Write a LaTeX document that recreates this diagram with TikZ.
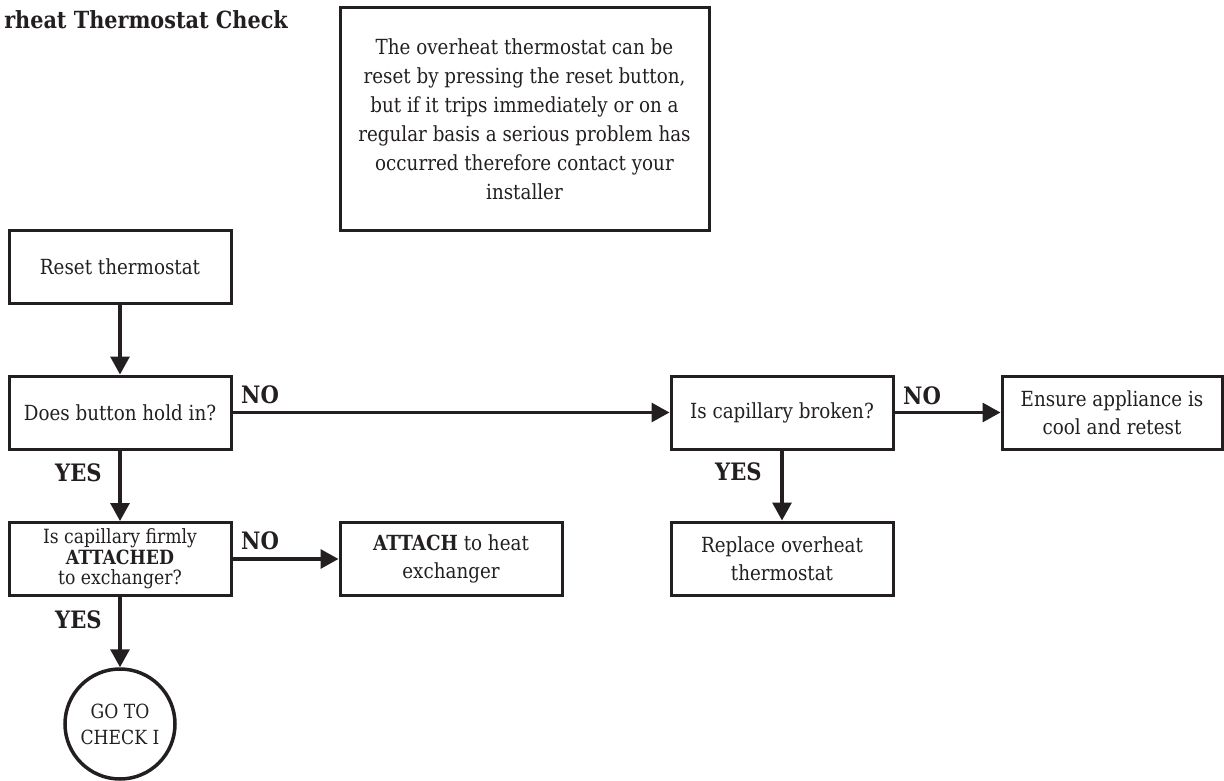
\documentclass[tikz,border=0pt]{standalone}
\usepackage{fontspec}
\setmainfont{DejaVu Serif}[FakeStretch=0.88]
\usetikzlibrary{arrows.meta}
\definecolor{ink}{HTML}{231F20}
\tikzset{
  box/.style={draw=ink, line width=3pt, rectangle, minimum width=222pt, minimum height=73pt,
    inner sep=0pt, align=center, text=ink, font=\fontsize{20.8}{28.5}\selectfont},
  lbl/.style={inner sep=0pt, text=ink, font=\fontsize{24}{24}\selectfont\bfseries},
  conn/.style={draw=ink, line width=3.2pt, -{Triangle[length=18pt,width=19pt]}},
}
\begin{document}
\begin{tikzpicture}[x=1pt,y=-1pt]
\useasboundingbox (0,0) rectangle (1224,781);
% title
\node[inner sep=0pt, anchor=base east, text=ink, font=\fontsize{23.6}{23.6}\selectfont\bfseries] (title) at (288,29) {rheat Thermostat Check};
% note
\node[box, minimum width=369pt, minimum height=222pt, font=\fontsize{20.8}{29}\selectfont] (note) at (524.5,119)
  {The overheat thermostat can be\\reset by pressing the reset button,\\but if it trips immediately or on a\\regular basis a serious problem has\\occurred therefore contact your\\installer};
% boxes
\node[box] (reset) at (120,267) {Reset thermostat};
\node[box] (does) at (120,412.5) {Does button hold in?};
\node[box, font=\fontsize{19.6}{20.5}\selectfont] (firmly) at (120,559) {Is capillary firmly\\\textbf{ATTACHED}\\to exchanger?};
\node[box] (attach) at (451,559) {\textbf{ATTACH} to heat\\exchanger};
\node[box] (broken) at (782,412.5) {Is capillary broken?};
\node[box, minimum width=220pt] (ensure) at (1112,412.5) {Ensure appliance is\\cool and retest};
\node[box] (replace) at (782,558.5) {Replace overheat\\thermostat};
\node[draw=ink, line width=3.5pt, circle, minimum size=110pt, inner sep=0pt, align=center, text=ink,
  font=\fontsize{19.5}{26}\selectfont] (goto) at (120,724) {GO TO\\CHECK I};
% connectors
\draw[conn] (reset.south) -- (does.north);
\draw[conn] (does.east) -- (broken.west);
\draw[conn] (broken.east) -- (ensure.west);
\draw[conn] (broken.south) -- (replace.north);
\draw[conn] (does.south) -- (firmly.north);
\draw[conn] (firmly.east) -- (attach.west);
\draw[conn] (firmly.south) -- (goto.north);
% labels
\node[lbl, anchor=base west] (no1) at (241,403) {NO};
\node[lbl, anchor=base west] (no2) at (903,404) {NO};
\node[lbl, anchor=base west] (no3) at (241,549) {NO};
\node[lbl, anchor=base west] (yes1) at (55,481) {YES};
\node[lbl, anchor=base west] (yes2) at (55,628) {YES};
\node[lbl, anchor=base west] (yes3) at (715,480) {YES};
\end{tikzpicture}
\end{document}
